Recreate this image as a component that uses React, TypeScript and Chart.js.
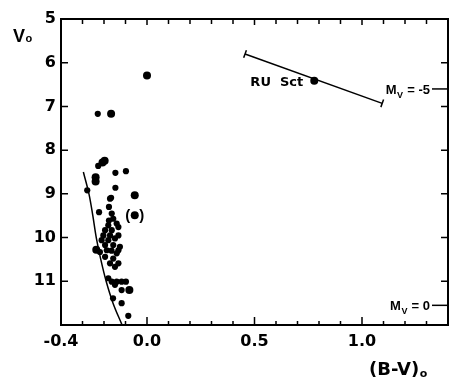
import React, { useEffect, useRef } from 'react';
import { Chart, registerables } from 'chart.js';

Chart.register(...registerables);

// ---- data ----
const X_LABELED = [-0.4, 0.0, 0.5, 1.0];
const X_LABELS = ['-0.4', '0.0', '0.5', '1.0'];
const Y_LABELED = [5, 6, 7, 8, 9, 10, 11];

const bigStars: [number, number][] = [
  [0.0, 6.29], [-0.167, 7.17], [-0.197, 8.24], [-0.207, 8.28],
  [-0.239, 8.62], [-0.239, 8.72], [-0.057, 9.03], [-0.057, 9.49],
  [-0.236, 10.28], [-0.082, 11.2],
];

const smallStars: [number, number][] = [
  [-0.229, 7.17], [-0.227, 8.36], [-0.147, 8.52], [-0.098, 8.48],
  [-0.147, 8.86], [-0.278, 8.92], [-0.167, 9.09], [-0.172, 9.11],
  [-0.177, 9.3], [-0.223, 9.42], [-0.164, 9.45], [-0.157, 9.57],
  [-0.177, 9.61], [-0.141, 9.68], [-0.18, 9.72], [-0.133, 9.76],
  [-0.195, 9.83], [-0.164, 9.83], [-0.203, 9.95], [-0.172, 9.95],
  [-0.133, 9.95], [-0.211, 10.06], [-0.18, 10.06], [-0.149, 10.02],
  [-0.195, 10.17], [-0.157, 10.17], [-0.126, 10.21], [-0.187, 10.29],
  [-0.133, 10.29], [-0.219, 10.33], [-0.165, 10.3], [-0.141, 10.36],
  [-0.195, 10.44], [-0.157, 10.48], [-0.133, 10.59], [-0.172, 10.59],
  [-0.149, 10.67], [-0.18, 10.93], [-0.164, 11.01], [-0.141, 11.01],
  [-0.118, 11.01], [-0.098, 11.01], [-0.149, 11.08], [-0.118, 11.2],
  [-0.158, 11.39], [-0.118, 11.5], [-0.087, 11.79],
];

const zamsCurve: [number, number][] = [
  [-0.296, 8.5], [-0.27, 9.0], [-0.252, 9.5], [-0.236, 10.0],
  [-0.215, 10.5], [-0.19, 11.0], [-0.158, 11.5], [-0.116, 12.0],
];

const ruSctBar: [number, number][] = [[0.456, 5.8], [1.094, 6.93]];
const ruSct: [number, number] = [0.778, 6.41];
const bracketedStar: [number, number] = [-0.057, 9.49];
const mvLevels = [
  { label: '-5', v: 6.6 },
  { label: '0', v: 11.55 },
];

const FONT = '"Liberation Sans", Arial, Helvetica, sans-serif';
const WIDE = '"DejaVu Sans", Verdana, sans-serif';

const toPts = (a: [number, number][]) => a.map(([x, y]) => ({ x, y }));

const framePlugin = {
  id: 'frame',
  afterDraw(chart: any) {
    const { ctx, chartArea: a, scales } = chart;
    const xs = scales.x;
    const ys = scales.y;
    ctx.save();
    ctx.strokeStyle = '#000';
    ctx.fillStyle = '#000';
    ctx.lineWidth = 2;
    ctx.strokeRect(a.left, a.top, a.right - a.left, a.bottom - a.top);
    ctx.lineWidth = 1.5;
    ctx.beginPath();
    xs.ticks.forEach((t: any) => {
      const px = xs.getPixelForValue(t.value);
      const major = X_LABELED.some((v) => Math.abs(v - t.value) < 1e-6);
      const lb = major ? 8 : 4;
      ctx.moveTo(px, a.bottom);
      ctx.lineTo(px, a.bottom - lb);
      const lt = major ? 6 : 5;
      ctx.moveTo(px, a.top);
      ctx.lineTo(px, a.top + lt);
    });
    ys.ticks.forEach((t: any) => {
      const py = ys.getPixelForValue(t.value);
      ctx.moveTo(a.left, py);
      ctx.lineTo(a.left + 7, py);
      ctx.moveTo(a.right, py);
      ctx.lineTo(a.right - 7, py);
    });
    ctx.stroke();

    const sub = (
      family: string, base: string, s: string, rest: string, x: number, y: number,
      size: number, subSize: number, subDy: number, alignRight: boolean,
    ) => {
      ctx.font = `bold ${size}px ${family}`;
      const w1 = ctx.measureText(base).width;
      const w3 = ctx.measureText(rest).width;
      ctx.font = `bold ${subSize}px ${family}`;
      const w2 = ctx.measureText(s).width;
      const total = w1 + w2 + w3 + 1;
      const sx = alignRight ? x - total : x;
      ctx.textAlign = 'left';
      ctx.textBaseline = 'alphabetic';
      ctx.font = `bold ${size}px ${family}`;
      ctx.fillText(base, sx, y);
      ctx.font = `bold ${subSize}px ${family}`;
      ctx.fillText(s, sx + w1 + 0.5, y + subDy);
      ctx.font = `bold ${size}px ${family}`;
      ctx.fillText(rest, sx + w1 + w2 + 1, y);
    };
    // axis titles
    sub(FONT, 'V', 'o', '', 13, 42, 18, 11, 0, false);
    sub(WIDE, '(B-V)', 'o', '', 369, 375, 18, 11, 2, false);

    // RU Sct label
    const rpx = xs.getPixelForValue(ruSct[0]);
    const rpy = ys.getPixelForValue(ruSct[1]);
    ctx.font = `bold 13px ${WIDE}`;
    ctx.textAlign = 'right';
    ctx.fillText('RU  Sct', rpx - 11, rpy + 5);

    // bracket around star
    const bpx = xs.getPixelForValue(bracketedStar[0]);
    const bpy = ys.getPixelForValue(bracketedStar[1]);
    ctx.font = `bold 15px ${FONT}`;
    ctx.textAlign = 'center';
    ctx.fillText('(', bpx - 7, bpy + 5);
    ctx.fillText(')', bpx + 7, bpy + 5);

    // M_V levels
    mvLevels.forEach((m) => {
      const py = ys.getPixelForValue(m.v);
      ctx.lineWidth = 1.5;
      ctx.beginPath();
      ctx.moveTo(a.right - 16, py);
      ctx.lineTo(a.right, py);
      ctx.stroke();
      sub(FONT, 'M', 'V', ' = ' + m.label, a.right - 18, py + 5, 13, 9, 4, true);
    });
    ctx.restore();
  },
};

export default function App() {
  const ref = useRef<HTMLCanvasElement | null>(null);
  useEffect(() => {
    if (!ref.current) return;
    const chart = new Chart(ref.current, {
      type: 'scatter',
      data: {
        datasets: [
          {
            data: toPts(zamsCurve),
            showLine: true,
            borderColor: '#000',
            borderWidth: 1.5,
            pointRadius: 0,
            tension: 0.35,
          },
          {
            data: toPts(ruSctBar),
            showLine: true,
            borderColor: '#000',
            borderWidth: 1.5,
            pointStyle: 'line',
            pointRotation: 110,
            pointRadius: 4,
            pointBorderWidth: 1.5,
            pointBorderColor: '#000',
          },
          {
            data: [{ x: ruSct[0], y: ruSct[1] }],
            pointRadius: 4,
            pointBorderWidth: 0,
            backgroundColor: '#000',
          },
          {
            data: toPts(bigStars),
            pointRadius: 4,
            pointBorderWidth: 0,
            backgroundColor: '#000',
          },
          {
            data: toPts(smallStars),
            pointRadius: 3.1,
            pointBorderWidth: 0,
            backgroundColor: '#000',
          },
        ] as any,
      },
      options: {
        animation: false,
        responsive: true,
        maintainAspectRatio: false,
        layout: { padding: { top: 19, right: 7, left: 0, bottom: 0 } },
        plugins: { legend: { display: false }, tooltip: { enabled: false } },
        scales: {
          x: {
            type: 'linear',
            min: -0.4,
            max: 1.4,
            grid: { display: false, drawTicks: false },
            border: { display: false },
            afterFit: (s: any) => { s.height = 61; },
            ticks: {
              stepSize: 0.1,
              autoSkip: false,
              maxRotation: 0,
              padding: 7,
              color: '#000',
              font: { family: WIDE, size: 16, weight: 'bold' },
              callback: (v: any) => {
                const i = X_LABELED.findIndex((t) => Math.abs(t - Number(v)) < 1e-6);
                return i >= 0 ? X_LABELS[i] : '';
              },
            },
          },
          y: {
            type: 'linear',
            reverse: true,
            min: 5,
            max: 12,
            grid: { display: false, drawTicks: false },
            border: { display: false },
            afterFit: (s: any) => { s.width = 61; },
            ticks: {
              stepSize: 1,
              padding: 5,
              color: '#000',
              font: { family: WIDE, size: 16, weight: 'bold' },
              callback: (v: any) => (Y_LABELED.includes(Number(v)) ? String(v) : ''),
            },
          },
        },
      } as any,
      plugins: [framePlugin],
    });
    return () => chart.destroy();
  }, []);
  return (
    <div style={{ position: 'fixed', left: 0, top: 0, width: 455, height: 386, background: '#fff' }}>
      <canvas ref={ref} />
    </div>
  );
}
